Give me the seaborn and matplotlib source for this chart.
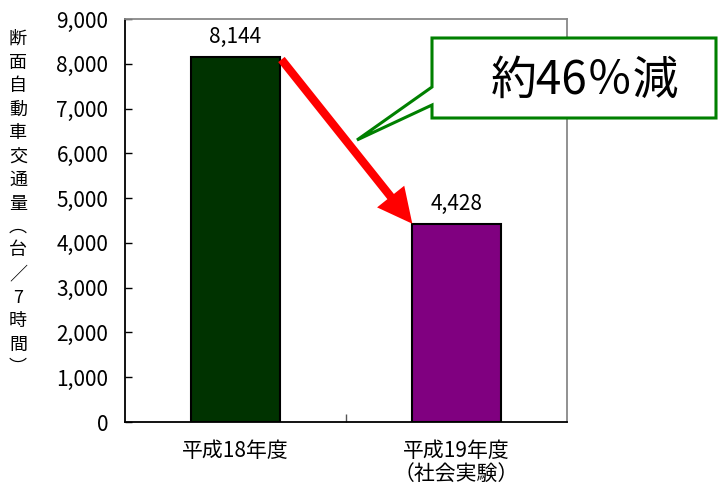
import matplotlib
matplotlib.use("Agg")
import matplotlib.pyplot as plt
from matplotlib.patches import Polygon
from matplotlib.ticker import FuncFormatter, FixedLocator
import seaborn as sns
import pandas as pd

# Traffic volume data
categories = ["平成18年度", "平成19年度\n（社会実験）"]
values = [8144, 4428]
bar_colors = ["#003300", "#800080"]
value_labels = ["8,144", "4,428"]
callout_text = "約46％減"
ylabel_chars = ["断", "面", "自", "動", "車", "交", "通", "量", "︵", "台", "／", "7", "時", "間", "︶"]
y_max = 9000
y_step = 1000

sns.set_theme(style="white")
plt.rcParams["font.family"] = ["Noto Sans CJK JP", "DejaVu Sans"]

W, H = 728, 486
fig = plt.figure(figsize=(W / 100, H / 100), dpi=100)
ax_left, ax_right, ax_top, ax_bottom = 125, 567, 19, 422
ax = fig.add_axes([ax_left / W, 1 - ax_bottom / H,
                   (ax_right - ax_left) / W, (ax_bottom - ax_top) / H])

df = pd.DataFrame({"category": categories, "value": values})
sns.barplot(data=df, x="category", y="value", hue="category",
            palette=bar_colors, width=0.4, edgecolor="black",
            linewidth=1.5, legend=False, ax=ax, saturation=1)

ax.set_xlim(-0.5, 1.5)
ax.set_ylim(0, y_max)
ax.set_yticks(range(0, y_max + 1, y_step))
ax.yaxis.set_major_formatter(FuncFormatter(lambda v, p: f"{int(v):,}"))
ax.tick_params(axis="y", direction="in", length=5, width=1, pad=12,
               labelsize=15, colors="black", left=True)
ax.tick_params(axis="x", which="major", length=0, pad=13, labelsize=15,
               labelcolor="black")
ax.xaxis.set_minor_locator(FixedLocator([0.5]))
ax.tick_params(axis="x", which="minor", direction="in", length=6, width=1,
               bottom=True, color="#555555")
for lbl in ax.get_xticklabels():
    lbl.set_linespacing(1.05)
ax.set_xlabel("")
ax.set_ylabel("")

for side in ["left", "bottom"]:
    ax.spines[side].set_color("black")
    ax.spines[side].set_linewidth(1.3)
for side in ["top", "right"]:
    ax.spines[side].set_color("#888888")
    ax.spines[side].set_linewidth(1.3)
    ax.spines[side].set_visible(True)

# value labels above bars
for i, (v, t) in enumerate(zip(values, value_labels)):
    ax.annotate(t, xy=(i, v), xytext=(0, 14.5), textcoords="offset points",
                ha="center", va="center", fontsize=15, color="black")

# red arrow from the top of the first bar to the top of the second
bw = 0.4
ax.annotate("", xy=(1 - bw / 2, values[1]), xytext=(bw / 2, values[0]),
            arrowprops=dict(arrowstyle="simple,head_length=1.25,head_width=1.25,tail_width=0.3",
                            mutation_scale=20, color="#ff0000", lw=0,
                            shrinkA=2, shrinkB=0), zorder=5)

# speech-bubble callout
def to_axes(px, py):
    return ((px - ax_left) / (ax_right - ax_left), (ax_bottom - py) / (ax_bottom - ax_top))

bubble_px = [(432, 38), (716, 38), (716, 118), (432, 118), (432, 105),
             (357, 140), (432, 87)]
bubble = Polygon([to_axes(*p) for p in bubble_px], closed=True,
                 transform=ax.transAxes, facecolor="white", edgecolor="#008000",
                 linewidth=2.2, clip_on=False, zorder=6, joinstyle="miter")
ax.add_patch(bubble)
cx, cy = to_axes(585, 81)
ax.text(cx, cy, callout_text, transform=ax.transAxes, ha="center", va="center",
        fontsize=33, color="black", zorder=7, clip_on=False)

# vertical y-axis title
for k, ch in enumerate(ylabel_chars):
    fig.text(18 / W, 1 - (39 + 23.5 * k) / H, ch, ha="center", va="center",
             fontsize=13, color="black")

fig.savefig("out.png", dpi=100, facecolor="white")
